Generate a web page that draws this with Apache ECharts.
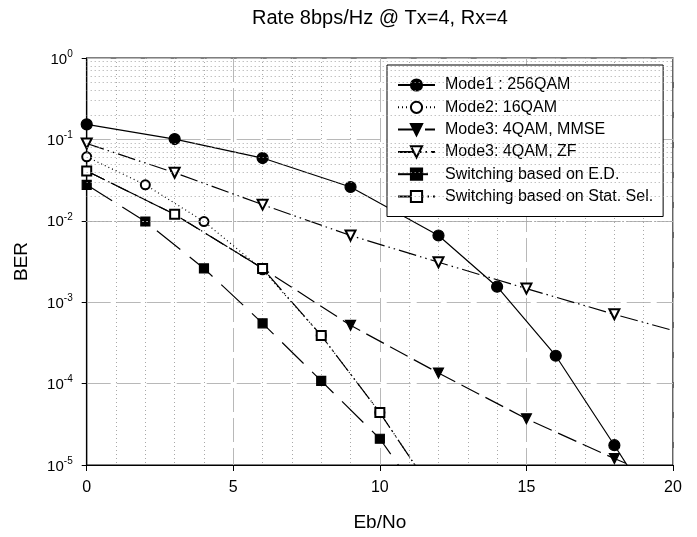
<!DOCTYPE html>
<html lang="en">
<head>
    <meta charset="UTF-8">
    <title>BER</title>
    <script src="https://cdn.jsdelivr.net/npm/echarts@6/dist/echarts.min.js"></script>
    <style>
        html, body {
            margin: 0;
            height: 100%;
            background: #fff;
        }
    </style>
</head>
<body>
<div id="main" style="width: 697px;height: 537px"></div>
<script>
    // 数据 (Eb/No, BER)
    var names = ['Mode1 : 256QAM', 'Mode2: 16QAM', 'Mode3: 4QAM, MMSE', 'Mode3: 4QAM, ZF',
        'Switching based on E.D.', 'Switching based on Stat. Sel.'];

    var mode1X = [0, 3, 6, 9, 12, 14, 16, 18, 20];
    var mode1Y = [0.153, 0.101, 0.059, 0.026, 0.0066, 0.00155, 2.2e-4, 1.75e-5, 1.3e-6];

    var mode2X = [0, 2, 4, 6, 8, 10, 12];
    var mode2Y = [0.061, 0.0277, 0.0098, 0.0025, 3.9e-4, 4.4e-5, 3.7e-6];

    var mmseX = [0, 3, 6, 9, 12, 15, 18, 20];
    var mmseY = [0.041, 0.012, 0.0026, 5.2e-4, 1.35e-4, 3.7e-5, 1.2e-5, 6e-6];

    var zfX = [0, 3, 6, 9, 12, 15, 18, 20];
    var zfY = [0.089, 0.039, 0.0158, 0.0066, 0.0031, 0.00147, 7.1e-4, 4.5e-4];

    var edX = [0, 2, 4, 6, 8, 10, 12];
    var edY = [0.0277, 0.0098, 0.0026, 5.5e-4, 1.08e-4, 2.1e-5, 2e-6];

    var statX = [0, 3, 6, 8, 10, 12];
    var statY = [0.041, 0.012, 0.0026, 3.9e-4, 4.4e-5, 3.7e-6];

    // 次刻度线 2..9 x 10^k
    var minorY = [];
    for (var k = -5; k < 0; k++) {
        for (var m = 2; m <= 9; m++) {
            minorY.push(m * Math.pow(10, k));
        }
    }

    var font = 'Liberation Sans, Arial, Helvetica, sans-serif';

    function pairs(xs, ys, hide) {
        var out = [];
        for (var i = 0; i < xs.length; i++) {
            var p = {value: [xs[i], ys[i]]};
            if (hide && hide.indexOf(xs[i]) >= 0) {
                p.symbol = 'none';
            }
            out.push(p);
        }
        return out;
    }

    function mkSeries(name, data, symbol, size, dash, rotate) {
        return {
            name: name,
            type: 'line',
            data: data,
            symbol: symbol,
            symbolSize: size,
            symbolRotate: rotate || 0,
            showAllSymbol: true,
            clip: true,
            lineStyle: {color: '#000', width: 1.2, type: dash},
            itemStyle: {color: '#000', borderColor: '#000', borderWidth: 1.2}
        };
    }

    var myChart = echarts.init(document.getElementById('main'), null, {renderer: 'canvas'});

    var option = {
        animation: false,
        backgroundColor: '#fff',
        title: {
            text: 'Rate 8bps/Hz @ Tx=4, Rx=4',
            left: 380,
            textAlign: 'center',
            top: 8,
            padding: 0,
            textStyle: {fontFamily: font, fontSize: 20, fontWeight: 'normal', color: '#000'}
        },
        legend: {
            data: names,
            orient: 'vertical',
            left: 387,
            top: 65,
            padding: [12, 10, 12, 10],
            itemWidth: 37,
            itemHeight: 14,
            itemGap: 6.3,
            backgroundColor: '#fff',
            borderColor: '#000',
            borderWidth: 1,
            textStyle: {fontFamily: font, fontSize: 16, color: '#000', lineHeight: 14, padding: [0, 0, 0, 5]}
        },
        grid: {
            left: 86.7,
            right: 24,
            top: 58,
            bottom: 68,
            show: true,
            borderColor: '#000',
            borderWidth: 1.2
        },
        xAxis: {
            type: 'value',
            min: 0,
            max: 20,
            interval: 5,
            name: 'Eb/No',
            nameLocation: 'middle',
            nameGap: 48,
            nameTextStyle: {fontFamily: font, fontSize: 19, color: '#000'},
            axisLine: {onZero: false, lineStyle: {color: '#000', width: 1.2}},
            axisTick: {inside: false, length: 6, lineStyle: {color: '#000'}},
            axisLabel: {fontFamily: font, fontSize: 16, color: '#000', margin: 15},
            splitLine: {show: true, lineStyle: {color: '#b8b8b8', width: 1, type: [24, 6]}},
            minorTick: {show: false, splitNumber: 5},
            minorSplitLine: {show: true, lineStyle: {color: '#a8a8a8', width: 1, type: [1, 3]}}
        },
        yAxis: {
            type: 'log',
            logBase: 10,
            min: 1e-5,
            max: 1,
            name: 'BER',
            nameLocation: 'middle',
            nameGap: 55,
            nameTextStyle: {fontFamily: font, fontSize: 19, color: '#000'},
            axisLine: {lineStyle: {color: '#000', width: 1.2}},
            axisTick: {inside: false, length: 5, lineStyle: {color: '#000'}},
            axisLabel: {
                margin: 14,
                formatter: function (v) {
                    var e = Math.round(Math.log10(v));
                    return '{b|10}{s|' + e + '}';
                },
                rich: {
                    b: {fontFamily: font, fontSize: 15, color: '#000', lineHeight: 18, verticalAlign: 'bottom'},
                    s: {fontFamily: font, fontSize: 10, color: '#000', lineHeight: 10, verticalAlign: 'bottom', padding: [0, 0, 8, 0]}
                }
            },
            splitLine: {show: true, lineStyle: {color: '#b8b8b8', width: 1, type: [24, 6]}}
        },
        series: [
            {
                name: 'minor',
                type: 'line',
                data: [],
                silent: true,
                markLine: {
                    silent: true,
                    symbol: ['none', 'none'],
                    label: {show: false},
                    lineStyle: {color: '#a8a8a8', width: 1, type: [1, 3]},
                    data: minorY.map(function (v) { return {yAxis: v}; })
                }
            },
            mkSeries(names[0], pairs(mode1X, mode1Y, [20]), 'circle', 11, 'solid'),
            mkSeries(names[1], pairs(mode2X, mode2Y, [12]), 'emptyCircle', 9, [1, 3]),
            mkSeries(names[2], pairs(mmseX, mmseY, [0, 3, 6, 20]), 'triangle', 10, [20, 7], 180),
            mkSeries(names[3], pairs(zfX, zfY, [20]), 'emptyTriangle', 10, [18, 4, 1.5, 4, 1.5, 4], 180),
            mkSeries(names[4], pairs(edX, edY, [12]), 'rect', 9, [30, 12]),
            mkSeries(names[5], pairs(statX, statY, [12]), 'emptyRect', 9, [20, 4, 1.5, 4, 1.5, 4])
        ]
    };

    myChart.setOption(option);
</script>
</body>
</html>
